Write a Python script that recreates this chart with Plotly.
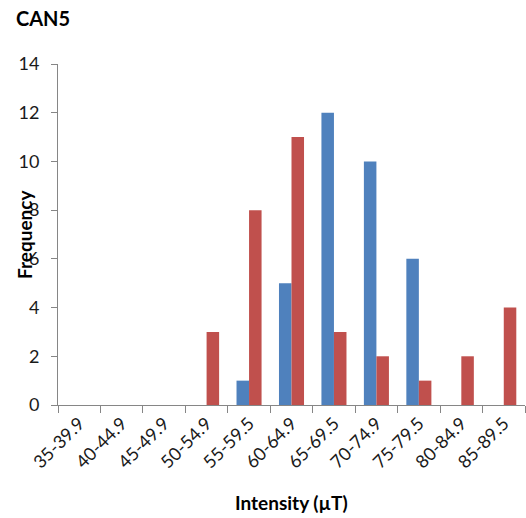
import plotly.graph_objects as go

# Intensity bins and counts for the two sample groups
bins = ["35-39.9", "40-44.9", "45-49.9", "50-54.9", "55-59.5", "60-64.9",
        "65-69.5", "70-74.9", "75-79.5", "80-84.9", "85-89.5"]
blue_counts = [0, 0, 0, 0, 1, 5, 12, 10, 6, 0, 0]
red_counts = [0, 0, 0, 3, 8, 11, 3, 2, 1, 2, 4]
y_ticks = [0, 2, 4, 6, 8, 10, 12, 14]

FONT = "Lato"
AXIS_GRAY = "#868686"
TEXT = "#1a1a1a"

fig = go.Figure()
fig.add_trace(go.Bar(x=bins, y=blue_counts, marker=dict(color="#4F81BD", line=dict(width=0))))
fig.add_trace(go.Bar(x=bins, y=red_counts, marker=dict(color="#C0504D", line=dict(width=0))))

fig.update_layout(
    width=526, height=518,
    margin=dict(l=58, r=1, t=64, b=113),
    plot_bgcolor="white", paper_bgcolor="white",
    barmode="group", bargap=0.41, bargroupgap=0,
    showlegend=False,
    font=dict(family=FONT, size=18, color=TEXT),
    title=dict(text="<b>CAN5</b>", x=16 / 526, xanchor="left", xref="container",
               y=1 - 19 / 518, yanchor="middle", font=dict(family=FONT, size=20, color="black")),
)

fig.update_xaxes(
    type="category", showline=True, linecolor=AXIS_GRAY, linewidth=1,
    ticks="outside", tickson="boundaries", ticklen=7, tickcolor=AXIS_GRAY,
    tickangle=-45, showgrid=False, zeroline=False,
    tickfont=dict(family=FONT, size=18, color=TEXT),
)
fig.update_yaxes(
    range=[0, 14], tickvals=y_ticks, showline=True, linecolor=AXIS_GRAY, linewidth=1,
    ticks="outside", ticklen=6, tickcolor=AXIS_GRAY, ticklabelstandoff=8,
    showgrid=False, zeroline=False,
    tickfont=dict(family=FONT, size=18, color=TEXT),
)

# Axis titles placed as annotations
fig.add_annotation(text="<b>Intensity (µT)</b>", xref="paper", yref="paper",
                   x=0.5, y=-(502 - 405) / (405 - 64), xanchor="center", yanchor="middle",
                   showarrow=False, font=dict(family=FONT, size=19, color="black"))
fig.add_annotation(text="<b>Frequency</b>", xref="paper", yref="paper",
                   x=-(58 - 24) / (525 - 58), y=(405 - 235) / (405 - 64), xanchor="center", yanchor="middle",
                   textangle=-90, showarrow=False, font=dict(family=FONT, size=19, color="black"))

fig.write_html("out.html")
